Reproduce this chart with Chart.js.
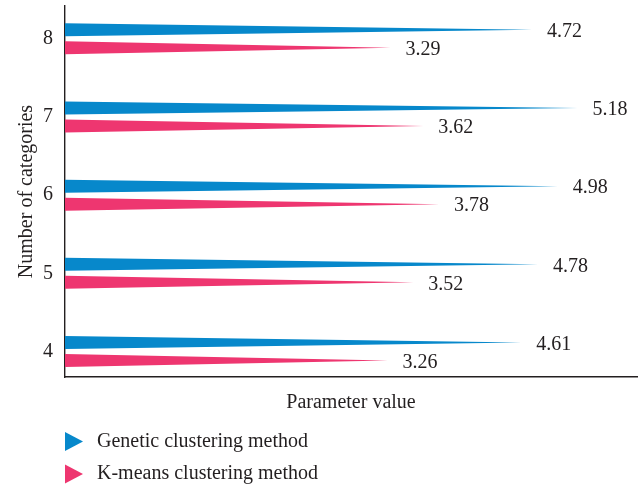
<!DOCTYPE html>
<html>
<head>
<meta charset="utf-8">
<script src="https://cdn.jsdelivr.net/npm/chart.js@4/dist/chart.umd.min.js"></script>
<style>
  html, body { margin: 0; padding: 0; background: #ffffff; }
  #wrap { width: 643px; height: 487px; }
</style>
</head>
<body>
<div id="wrap"><canvas id="chart" width="643" height="487"></canvas></div>
<script>
// Number of categories (y positions) and the parameter value of each method
const categories = [4, 5, 6, 7, 8];
const geneticValues = [4.61, 4.78, 4.98, 5.18, 4.72];
const kmeansValues = [3.26, 3.52, 3.78, 3.62, 3.29];
const seriesNames = ['Genetic clustering method', 'K-means clustering method'];
const seriesColors = ['#0788cb', '#ee3670'];
const yTickValues = [4, 5, 6, 7, 8];

const FONT = 'Liberation Serif, Times New Roman, serif';
const TEXT = '#231f20';

const toPoints = vals => vals.map((v, i) => ({ x: v, y: categories[i] }));

// Draw each bar element as a spike: full thickness at the base, tapering to a point at its value
const spikePlugin = {
  id: 'spikes',
  beforeDatasetDraw(chart, args) {
    const meta = args.meta;
    const ctx = chart.ctx;
    const area = chart.chartArea;
    ctx.save();
    ctx.beginPath();
    ctx.rect(area.left, area.top - 2, area.right - area.left, area.bottom - area.top + 2);
    ctx.clip();
    ctx.fillStyle = chart.data.datasets[args.index].backgroundColor;
    meta.data.forEach(el => {
      const p = el.getProps(['x', 'y', 'base', 'height'], true);
      ctx.beginPath();
      ctx.moveTo(p.base, p.y - p.height / 2);
      ctx.lineTo(p.x, p.y);
      ctx.lineTo(p.base, p.y + p.height / 2);
      ctx.closePath();
      ctx.fill();
    });
    ctx.restore();
    return false;
  }
};

// Value labels just past each spike tip
const valueLabelPlugin = {
  id: 'valueLabels',
  afterDatasetsDraw(chart) {
    const ctx = chart.ctx;
    ctx.save();
    ctx.font = '20px ' + FONT;
    ctx.fillStyle = TEXT;
    ctx.textAlign = 'left';
    ctx.textBaseline = 'middle';
    chart.data.datasets.forEach((ds, di) => {
      const meta = chart.getDatasetMeta(di);
      meta.data.forEach((el, i) => {
        const p = el.getProps(['x', 'y'], true);
        ctx.fillText(ds.data[i].x.toFixed(2), p.x + 15, p.y + 2);
      });
    });
    ctx.restore();
  }
};

// Stacked legend under the axis title, with right-pointing triangle markers
const legendPlugin = {
  id: 'triangleLegend',
  afterDraw(chart) {
    const ctx = chart.ctx;
    const left = chart.chartArea.left;
    const rows = [441.5, 474];
    ctx.save();
    ctx.font = '20px ' + FONT;
    ctx.textAlign = 'left';
    ctx.textBaseline = 'middle';
    chart.data.datasets.forEach((ds, i) => {
      const cy = rows[i];
      ctx.fillStyle = ds.backgroundColor;
      ctx.beginPath();
      ctx.moveTo(left, cy - 9.5);
      ctx.lineTo(left + 18, cy);
      ctx.lineTo(left, cy + 9.5);
      ctx.closePath();
      ctx.fill();
      ctx.fillStyle = TEXT;
      ctx.fillText(ds.label, left + 32, cy);
    });
    ctx.restore();
  }
};

new Chart(document.getElementById('chart'), {
  type: 'bar',
  data: {
    datasets: [
      { label: seriesNames[0], data: toPoints(geneticValues), backgroundColor: seriesColors[0] },
      { label: seriesNames[1], data: toPoints(kmeansValues), backgroundColor: seriesColors[1] }
    ]
  },
  options: {
    indexAxis: 'y',
    responsive: false,
    animation: false,
    categoryPercentage: 0.4604,
    barPercentage: 0.722,
    layout: { padding: { top: 6, right: 6, bottom: 72, left: 0 } },
    plugins: {
      legend: { display: false },
      tooltip: { enabled: false }
    },
    scales: {
      x: {
        type: 'linear',
        min: 0,
        max: 5.78,
        ticks: { display: false },
        grid: { display: false, drawTicks: false },
        border: { display: true, color: TEXT, width: 1.4 },
        afterFit: s => { s.paddingLeft = 0; s.paddingRight = 0; },
        title: {
          display: true,
          text: 'Parameter value',
          color: TEXT,
          font: { family: FONT, size: 20 },
          padding: { top: 14, bottom: 0 }
        }
      },
      y: {
        type: 'linear',
        min: 3.674,
        max: 8.419,
        offset: false,
        afterBuildTicks: s => { s.ticks = yTickValues.map(v => ({ value: v })); },
        afterFit: s => { s.width = 65; s.paddingTop = 0; s.paddingBottom = 0; },
        ticks: { color: TEXT, font: { family: FONT, size: 20 }, padding: 12 },
        grid: { display: false, drawTicks: false },
        border: { display: true, color: TEXT, width: 1.4 },
        title: {
          display: true,
          text: 'Number of categories',
          color: TEXT,
          font: { family: FONT, size: 20 },
          padding: { top: 15, bottom: 0 }
        }
      }
    }
  },
  plugins: [spikePlugin, valueLabelPlugin, legendPlugin]
});
</script>
</body>
</html>
